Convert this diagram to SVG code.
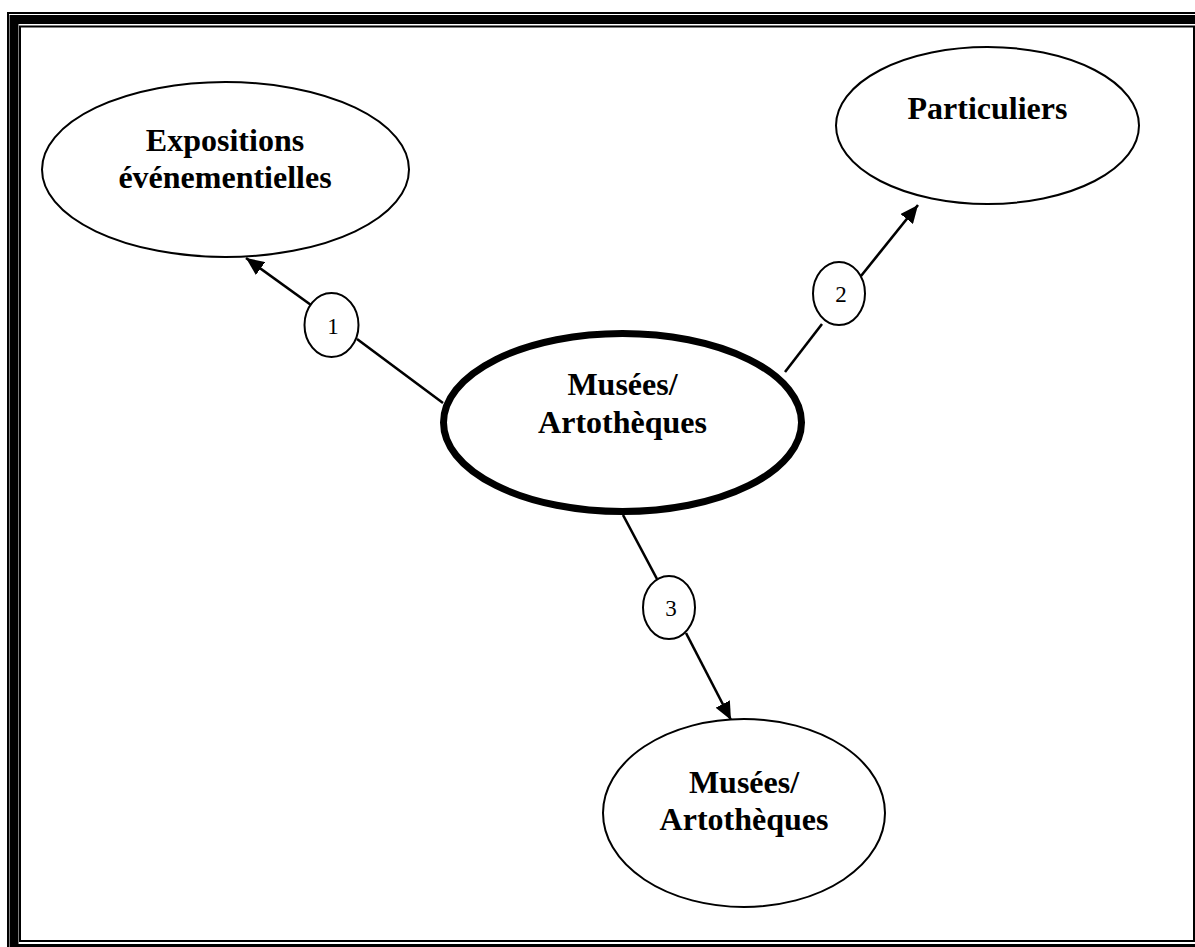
<svg xmlns="http://www.w3.org/2000/svg" width="1195" height="947" viewBox="0 0 1195 947">
<style>
.node{fill:#fff;stroke:#000;stroke-width:2}
.main{fill:#fff;stroke:#000;stroke-width:7}
.lbl{font-family:"Liberation Serif","Times New Roman",serif;font-weight:bold;font-size:32px;text-anchor:middle;fill:#000}
.num{font-family:"Liberation Serif","Times New Roman",serif;font-size:23px;text-anchor:middle;fill:#000}
.edge{stroke:#000;stroke-width:2.6;fill:none}
.badge{fill:#fff;stroke:#000;stroke-width:2}
</style>
<defs>
<marker id="arr" markerUnits="userSpaceOnUse" markerWidth="20" markerHeight="16" viewBox="0 0 20 16" refX="18" refY="8" orient="auto">
<path d="M0,0 L18,8 L0,16 Z" fill="#000"/>
</marker>
</defs>
<rect width="1195" height="947" fill="#fff"/>
<g id="frame" fill="none" stroke="#000">
<rect x="8" y="13" width="1198" height="942" stroke-width="2"/>
<rect x="14" y="19.5" width="1186" height="929" stroke-width="9"/>
<rect x="20" y="26.5" width="1174" height="914.5" stroke-width="2"/>
</g>
<g id="connectors">
<line class="edge" x1="443" y1="403" x2="357" y2="339"/>
<line class="edge" x1="311" y1="305" x2="246" y2="258" marker-end="url(#arr)"/>
<line class="edge" x1="785" y1="372" x2="822" y2="324"/>
<line class="edge" x1="861" y1="276" x2="918" y2="205" marker-end="url(#arr)"/>
<line class="edge" x1="623" y1="515" x2="657" y2="579"/>
<line class="edge" x1="686" y1="633" x2="731" y2="720" marker-end="url(#arr)"/>
</g>
<g id="expositions">
<ellipse class="node" cx="225.5" cy="169.5" rx="183.5" ry="87.5"/>
<text class="lbl" x="225" y="151">Expositions</text>
<text class="lbl" x="225" y="188">événementielles</text>
</g>
<g id="particuliers">
<ellipse class="node" cx="987.5" cy="125.5" rx="151.5" ry="78.5"/>
<text class="lbl" x="987.5" y="119">Particuliers</text>
</g>
<g id="musees-center">
<ellipse class="main" cx="622.5" cy="422.5" rx="179" ry="89"/>
<text class="lbl" x="622.5" y="395">Musées/</text>
<text class="lbl" x="622.5" y="433">Artothèques</text>
</g>
<g id="musees-bottom">
<ellipse class="node" cx="744" cy="813" rx="141" ry="94"/>
<text class="lbl" x="744" y="793">Musées/</text>
<text class="lbl" x="744" y="830">Artothèques</text>
</g>
<g id="badge1">
<ellipse class="badge" cx="331.5" cy="325" rx="27" ry="32"/>
<text class="num" x="333" y="334">1</text>
</g>
<g id="badge2">
<ellipse class="badge" cx="839" cy="293.5" rx="26" ry="31.5"/>
<text class="num" x="841" y="302">2</text>
</g>
<g id="badge3">
<ellipse class="badge" cx="669" cy="607.5" rx="26" ry="31.5"/>
<text class="num" x="671" y="616">3</text>
</g>
</svg>
